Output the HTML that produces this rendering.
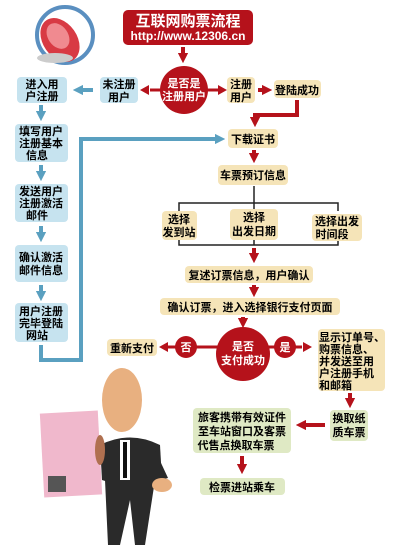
<!DOCTYPE html>
<html><head><meta charset="utf-8"><style>
body{margin:0;background:#fff;}
svg text{font-family:"Liberation Sans","Noto Sans CJK SC",sans-serif;font-weight:bold;}
</style></head><body>
<svg width="401" height="551" viewBox="0 0 401 551" xmlns="http://www.w3.org/2000/svg">
<defs>
<marker id="r" markerWidth="2.6" markerHeight="2.6" refX="0.3" refY="1.3" orient="auto" markerUnits="strokeWidth"><path d="M0,0 L2.6,1.3 L0,2.6 z" fill="#b5121b"/></marker>
<marker id="b" markerWidth="2.6" markerHeight="2.6" refX="0.3" refY="1.3" orient="auto" markerUnits="strokeWidth"><path d="M0,0 L2.6,1.3 L0,2.6 z" fill="#5aa0c0"/></marker>
</defs>
<!-- mouse icon -->
<ellipse cx="65" cy="35" rx="28" ry="28" fill="none" stroke="#5a8fc0" stroke-width="4"/>
<ellipse cx="60" cy="40" rx="17" ry="24" fill="#d83a44" transform="rotate(-35 60 40)"/>
<ellipse cx="58" cy="36" rx="10" ry="14" fill="#f08a90" transform="rotate(-35 58 36)"/>
<ellipse cx="55" cy="58" rx="18" ry="5" fill="#ccc"/>
<!-- title -->
<rect x="123" y="10" width="130" height="35" rx="5" fill="#b5121b"/>
<text x="188" y="26" font-size="15" fill="#fff" text-anchor="middle">互联网购票流程</text>
<text x="188" y="40" font-size="12" fill="#fff" text-anchor="middle" font-weight="normal">http://www.12306.cn</text>
<line x1="183" y1="47" x2="183" y2="54" stroke="#b5121b" stroke-width="4" marker-end="url(#r)"/>
<!-- decision 1 -->
<line x1="150" y1="90" x2="218" y2="90" stroke="#b5121b" stroke-width="3"/>
<path d="M140,90 L149,85 L149,95z M227,90 L218,85 L218,95z" fill="#b5121b"/>
<circle cx="184" cy="90" r="24" fill="#b5121b"/>
<text x="184" y="87" font-size="11" fill="#fff" text-anchor="middle">是否是</text>
<text x="184" y="100" font-size="11" fill="#fff" text-anchor="middle">注册用户</text>
<rect x="100" y="77" width="38" height="26" rx="4" fill="#c6e3ef"/>
<text x="119" y="88" font-size="11" text-anchor="middle">未注册</text>
<text x="119" y="101" font-size="11" text-anchor="middle">用户</text>
<line x1="93" y1="90" x2="82" y2="90" stroke="#5aa0c0" stroke-width="4" marker-end="url(#b)"/>
<rect x="227" y="77" width="28" height="26" rx="4" fill="#f5e4b8"/>
<text x="241" y="88" font-size="11" text-anchor="middle">注册</text>
<text x="241" y="101" font-size="11" text-anchor="middle">用户</text>
<line x1="258" y1="90" x2="263" y2="90" stroke="#b5121b" stroke-width="4" marker-end="url(#r)"/>
<rect x="274" y="80" width="47" height="18" rx="4" fill="#f5e4b8"/>
<text x="297" y="94" font-size="11" text-anchor="middle">登陆成功</text>
<polyline points="297,100 297,115 255,115 255,118" fill="none" stroke="#b5121b" stroke-width="4" marker-end="url(#r)"/>
<!-- left column -->
<g font-size="11" text-anchor="middle">
<rect x="17" y="77" width="50" height="26" rx="4" fill="#c6e3ef"/>
<text x="42" y="88">进入用</text><text x="42" y="100">户注册</text>
<rect x="15" y="124" width="53" height="38" rx="4" fill="#c6e3ef"/>
<text x="41" y="135">填写用户</text><text x="41" y="147">注册基本</text><text x="37" y="159">信息</text>
<rect x="15" y="184" width="53" height="38" rx="4" fill="#c6e3ef"/>
<text x="41" y="195">发送用户</text><text x="41" y="207">注册激活</text><text x="37" y="219">邮件</text>
<rect x="15" y="245" width="53" height="37" rx="4" fill="#c6e3ef"/>
<text x="41" y="261">确认激活</text><text x="41" y="274">邮件信息</text>
<rect x="15" y="303" width="53" height="39" rx="4" fill="#c6e3ef"/>
<text x="41" y="315">用户注册</text><text x="41" y="327">完毕登陆</text><text x="37" y="339">网站</text>
</g>
<g stroke="#5aa0c0" stroke-width="4" fill="none">
<line x1="41" y1="105" x2="41" y2="112" marker-end="url(#b)"/>
<line x1="41" y1="165" x2="41" y2="172" marker-end="url(#b)"/>
<line x1="41" y1="226" x2="41" y2="233" marker-end="url(#b)"/>
<line x1="41" y1="285" x2="41" y2="292" marker-end="url(#b)"/>
<polyline points="41,345 41,360 81,360 81,139 216,139" marker-end="url(#b)"/>
</g>
<!-- right flow -->
<g font-size="11" text-anchor="middle">
<rect x="228" y="129" width="50" height="19" rx="4" fill="#f5e4b8"/>
<text x="253" y="143">下载证书</text>
<line x1="254" y1="150" x2="254" y2="154" stroke="#b5121b" stroke-width="4" marker-end="url(#r)"/>
<rect x="218" y="165" width="70" height="20" rx="4" fill="#f5e4b8"/>
<text x="253" y="179">车票预订信息</text>
<g stroke="#222" stroke-width="1.5" fill="none">
<line x1="254" y1="186" x2="254" y2="245"/>
<polyline points="179,211 179,203 338,203 338,211"/>
<polyline points="179,238 179,245 338,245 338,238"/>
</g>
<rect x="162" y="211" width="35" height="29" rx="4" fill="#f5e4b8"/>
<text x="179" y="223">选择</text><text x="179" y="236">发到站</text>
<rect x="230" y="209" width="48" height="31" rx="4" fill="#f5e4b8"/>
<text x="254" y="221">选择</text><text x="254" y="235">出发日期</text>
<rect x="312" y="214" width="50" height="27" rx="4" fill="#f5e4b8"/>
<text x="337" y="225">选择出发</text><text x="332" y="238">时间段</text>
<line x1="254" y1="248" x2="254" y2="254" stroke="#b5121b" stroke-width="4" marker-end="url(#r)"/>
<rect x="185" y="266" width="128" height="17" rx="4" fill="#f5e4b8"/>
<text x="249" y="279">复述订票信息，用户确认</text>
<line x1="254" y1="285" x2="254" y2="288" stroke="#b5121b" stroke-width="4" marker-end="url(#r)"/>
<rect x="160" y="298" width="180" height="17" rx="4" fill="#f5e4b8"/>
<text x="250" y="311">确认订票，进入选择银行支付页面</text>
<line x1="243" y1="317" x2="243" y2="319" stroke="#b5121b" stroke-width="4" marker-end="url(#r)"/>
<!-- decision 2 -->
<line x1="168" y1="347" x2="302" y2="347" stroke="#b5121b" stroke-width="3"/>
<path d="M159,347 L168,342 L168,352z M312,347 L303,342 L303,352z" fill="#b5121b"/>
<circle cx="243" cy="354" r="27" fill="#b5121b"/>
<text x="243" y="350" fill="#fff">是否</text><text x="243" y="364" fill="#fff">支付成功</text>
<circle cx="186" cy="347" r="11" fill="#b5121b"/><text x="186" y="351" fill="#fff">否</text>
<circle cx="285" cy="347" r="11" fill="#b5121b"/><text x="285" y="351" fill="#fff">是</text>
<rect x="107" y="339" width="50" height="17" rx="4" fill="#f5e4b8"/>
<text x="132" y="352">重新支付</text>
<rect x="318" y="329" width="67" height="62" rx="4" fill="#f5e4b8"/>
<g text-anchor="start">
<text x="319" y="341">显示订单号、</text><text x="319" y="353">购票信息、</text><text x="319" y="365">并发送至用</text><text x="319" y="377">户注册手机</text><text x="319" y="389">和邮箱</text>
</g>
<line x1="350" y1="393" x2="350" y2="399" stroke="#b5121b" stroke-width="4" marker-end="url(#r)"/>
<rect x="330" y="410" width="38" height="31" rx="4" fill="#dfe9c4"/>
<text x="349" y="422">换取纸</text><text x="349" y="436">质车票</text>
<line x1="325" y1="425" x2="305" y2="425" stroke="#b5121b" stroke-width="4" marker-end="url(#r)"/>
<rect x="193" y="408" width="98" height="45" rx="4" fill="#dfe9c4"/>
<text x="242" y="421">旅客携带有效证件</text><text x="242" y="435">至车站窗口及客票</text><text x="236" y="449">代售点换取车票</text>
<line x1="242" y1="456" x2="242" y2="465" stroke="#b5121b" stroke-width="4" marker-end="url(#r)"/>
<rect x="200" y="478" width="85" height="17" rx="4" fill="#dfe9c4"/>
<text x="242" y="491">检票进站乘车</text>
</g>
<!-- man -->
<rect x="42" y="412" width="58" height="84" fill="#f0b8cc" transform="rotate(-3 71 454)"/>
<rect x="48" y="476" width="18" height="16" fill="#555"/>
<ellipse cx="122" cy="400" rx="20" ry="32" fill="#e8b080"/>
<path d="M100,445 Q130,430 160,445 L162,480 Q130,490 102,480z" fill="#2a2a2a"/>
<rect x="120" y="440" width="10" height="40" fill="#fff"/>
<rect x="123" y="442" width="4" height="36" fill="#111"/>
<path d="M105,480 L155,480 L145,545 L135,545 L130,500 L120,545 L108,545z" fill="#2a2a2a"/>
<path d="M155,450 L168,478 L160,480z" fill="#2a2a2a"/>
<ellipse cx="162" cy="485" rx="10" ry="7" fill="#e8b080"/>
<ellipse cx="100" cy="450" rx="5" ry="15" fill="#b07050"/>
</svg>
</body></html>
